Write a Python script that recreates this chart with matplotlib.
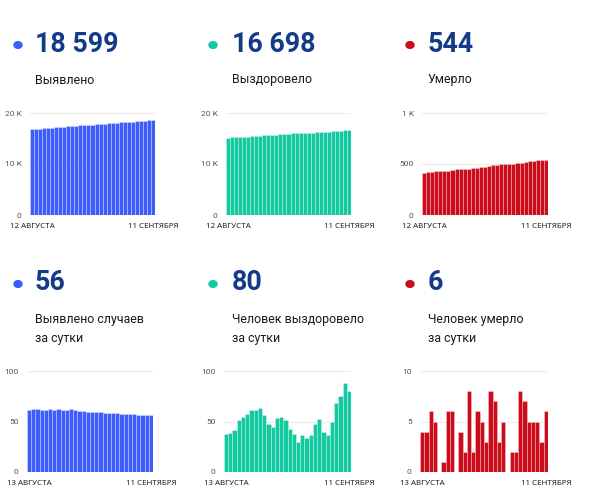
import matplotlib
matplotlib.use("Agg")
import matplotlib.pyplot as plt
from matplotlib.patches import Circle

plt.rcParams['font.family'] = ['Roboto', 'DejaVu Sans']

W, H = 593, 496

# ---- data ----
confirmed_total = [16822, 16883, 16945, 17007, 17068, 17129, 17191, 17252, 17314, 17375,
                   17436, 17498, 17559, 17619, 17679, 17738, 17797, 17856, 17915, 17973,
                   18031, 18089, 18147, 18204, 18261, 18318, 18375, 18431, 18487, 18543, 18599]
recovered_total = [15168, 15206, 15245, 15287, 15338, 15392, 15449, 15510, 15571, 15634,
                   15690, 15738, 15783, 15836, 15890, 15941, 15984, 16022, 16052, 16089,
                   16123, 16160, 16208, 16260, 16300, 16337, 16387, 16455, 16530, 16618, 16698]
deaths_total = [416, 420, 424, 430, 435, 435, 436, 442, 448, 448, 452, 454, 462, 464, 470, 475,
                478, 486, 493, 496, 501, 501, 503, 505, 513, 520, 525, 530, 535, 538, 544]
confirmed_daily = [61, 62, 62, 61, 61, 62, 61, 62, 61, 61, 62, 61, 60, 60, 59,
                   59, 59, 59, 58, 58, 58, 58, 57, 57, 57, 57, 56, 56, 56, 56]
recovered_daily = [38, 39, 42, 51, 54, 57, 61, 61, 63, 56, 48, 45, 53, 54, 51,
                   43, 38, 30, 37, 34, 37, 48, 52, 40, 37, 50, 68, 75, 88, 80]
deaths_daily = [4, 4, 6, 5, 0, 1, 6, 6, 0, 4, 2, 8, 2, 6, 5,
                3, 8, 7, 3, 5, 0, 2, 2, 8, 7, 5, 5, 5, 3, 6]

top_values = ["18 599", "16 698", "544"]
top_labels = ["Выявлено", "Выздоровело", "Умерло"]
bottom_values = ["56", "80", "6"]
bottom_labels = ["Выявлено случаев\nза сутки", "Человек выздоровело\nза сутки", "Человек умерло\nза сутки"]
top_xlabels = ["12 АВГУСТА", "11 СЕНТЯБРЯ"]
bottom_xlabels = ["13 АВГУСТА", "11 СЕНТЯБРЯ"]
top_yticks = [[0, 10000, 20000], [0, 10000, 20000], [0, 500, 1000]]
top_yticklabels = [["0", "10 K", "20 K"], ["0", "10 K", "20 K"], ["0", "500", "1 K"]]
bottom_yticks = [[0, 50, 100], [0, 50, 100], [0, 5, 10]]

colors = ['#3d5cfb', '#12c9a0', '#cc0b1b']
navy = '#143a8a'

fig = plt.figure(figsize=(W / 100, H / 100), dpi=100)
fig.patch.set_facecolor('white')

def fx(x):
    return x / W

def fy(y):
    return 1 - y / H

col_dot = [18, 213, 410]
col_text = [35, 232, 428]

# headers
for i in range(3):
    for (yv, yl, vals, labs) in [(44, 80, top_values, top_labels), (283, 320, bottom_values, bottom_labels)]:
        fig.patches.append(Circle((fx(col_dot[i]), fy(yv + 1)), 4 / W, transform=fig.transFigure,
                                  color=colors[i], zorder=5))
        fig.text(fx(col_text[i]), fy(yv), vals[i], fontsize=19.3, fontweight='bold', color=navy,
                 ha='left', va='center')
        fig.text(fx(col_text[i]), fy(yl - 6.5), labs[i], fontsize=8.9, color='#1a1a1a',
                 ha='left', va='top', linespacing=1.55)

def make_axes(x0, x1, ytop, ybot, data, color, yticks, yticklabels, xlabels):
    ax = fig.add_axes([fx(x0), fy(ybot), fx(x1 - x0), (ybot - ytop) / H])
    n = len(data)
    ax.bar(range(n), data, width=1.0, color=color, zorder=2,
           edgecolor=(1, 1, 1, 0.45), linewidth=0.45)
    ax.set_xlim(-0.5, n - 0.5)
    ax.set_ylim(yticks[0], yticks[-1])
    ax.set_yticks(yticks)
    ax.set_yticklabels(yticklabels)
    for t in yticks:
        ax.axhline(t, color='#ececec', lw=0.8, zorder=0)
    ax.set_xticks([0, n - 1])
    ax.set_xticklabels(xlabels, family=['Noto Sans', 'DejaVu Sans'])
    for s in ax.spines.values():
        s.set_visible(False)
    ax.tick_params(axis='both', length=0, labelsize=6.0)
    ax.tick_params(axis='y', pad=6, colors='#555555')
    ax.tick_params(axis='x', pad=6, colors='#222222', labelsize=5.7)
    ax.set_facecolor('none')
    return ax

top_data = [confirmed_total, recovered_total, deaths_total]
bot_data = [confirmed_daily, recovered_daily, deaths_daily]
top_x = [(30, 155), (226, 351), (422, 548)]
bot_x = [(27, 153), (224, 351), (420, 548)]

for i in range(3):
    make_axes(top_x[i][0], top_x[i][1], 113, 215, top_data[i], colors[i],
              top_yticks[i], top_yticklabels[i], top_xlabels)
    make_axes(bot_x[i][0], bot_x[i][1], 371, 472, bot_data[i], colors[i],
              bottom_yticks[i], [str(t) for t in bottom_yticks[i]], bottom_xlabels)

fig.savefig('out.png', dpi=100, facecolor='white')
